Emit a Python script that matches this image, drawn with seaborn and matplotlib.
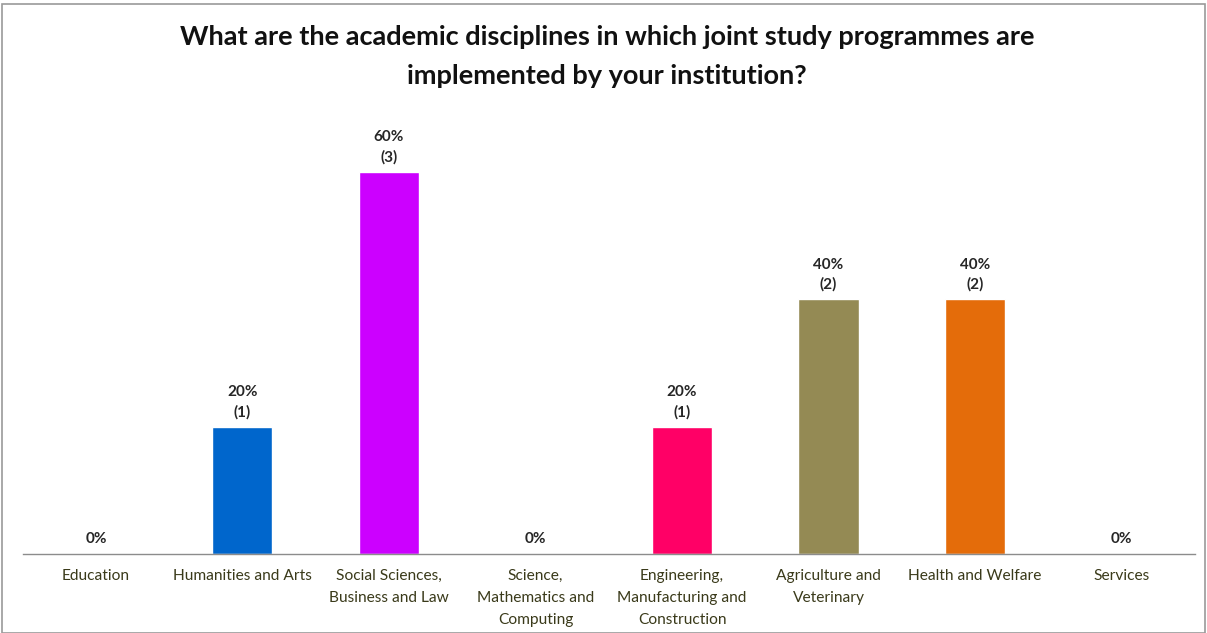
import matplotlib
matplotlib.use("Agg")
import matplotlib.pyplot as plt
import seaborn as sns
import pandas as pd
from matplotlib.patches import Rectangle

# Survey data
categories = ["Education", "Humanities and Arts", "Social Sciences,\nBusiness and Law",
              "Science,\nMathematics and\nComputing", "Engineering,\nManufacturing and\nConstruction",
              "Agriculture and\nVeterinary", "Health and Welfare", "Services"]
shares = [0.0, 0.20, 0.60, 0.0, 0.20, 0.40, 0.40, 0.0]
counts = [0, 1, 3, 0, 1, 2, 2, 0]
colors = ["#FFFFFF", "#0066CC", "#CC00FF", "#FFFFFF", "#FF0066", "#948A54", "#E46C0A", "#FFFFFF"]

df = pd.DataFrame({"category": categories, "share": shares, "count": counts})

sns.set_style("white")
plt.rcParams["font.family"] = ["Lato", "DejaVu Sans"]

fig = plt.figure(figsize=(12.07, 6.33), dpi=100)
ax = fig.add_axes([0.0188, 0.1248, 0.9711, 0.6856])

sns.barplot(data=df, x="category", y="share", hue="category", palette=colors,
            legend=False, width=0.41, ax=ax, saturation=1)

ax.set_ylim(0, 0.682)
ax.set_xlim(-0.5, len(categories) - 0.5)

for i, (s, c) in enumerate(zip(shares, counts)):
    if c > 0:
        label = f"{s*100:.0f}%\n({c})"
    else:
        label = f"{s*100:.0f}%"
    ax.text(i, s + 0.012, label, ha="center", va="bottom", fontsize=11,
            fontweight="bold", color="#262626", linespacing=1.5)

ax.set_xlabel("")
ax.set_ylabel("")
ax.set_yticks([])
ax.tick_params(axis="x", length=0, pad=11, labelsize=11.2, labelcolor="#3a3a1a")
for lbl in ax.get_xticklabels():
    lbl.set_linespacing(1.72)
    lbl.set_va("top")

for side in ["top", "right", "left"]:
    ax.spines[side].set_visible(False)
ax.spines["bottom"].set_color("#8c8c8c")
ax.spines["bottom"].set_linewidth(1.0)

fig.text(0.503, 0.911, "What are the academic disciplines in which joint study programmes are\nimplemented by your institution?",
         ha="center", va="center", fontsize=19.5, fontweight="bold", color="#111111", linespacing=1.75)

# outer chart border
fig.patches.append(Rectangle((0.002, 0.0), 0.996, 0.994, transform=fig.transFigure,
                             fill=False, edgecolor="#9a9a9a", linewidth=1.2))

fig.savefig("out.png", dpi=100)
